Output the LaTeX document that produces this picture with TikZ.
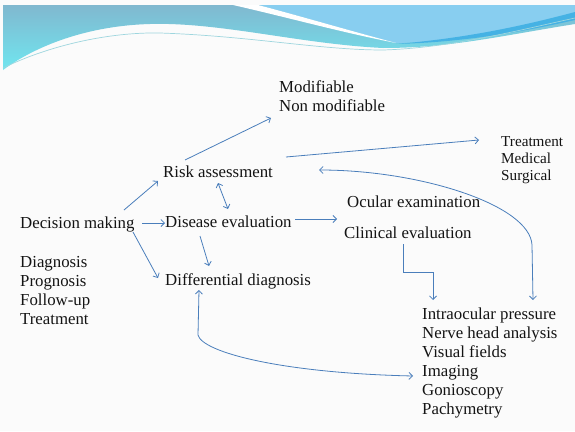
\documentclass[tikz,border=0pt]{standalone}
\usepackage{fontspec}
\setmainfont{Liberation Serif}
\usetikzlibrary{arrows.meta,calc}
\definecolor{linkblue}{HTML}{4A7EBB}
\definecolor{txt}{HTML}{141414}
\definecolor{bgwhite}{HTML}{FBFBFB}
\definecolor{bandtop}{HTML}{80B8CF}
\definecolor{bandbot}{HTML}{70E6F0}
\definecolor{skyblue}{HTML}{88CEF0}
\definecolor{deepblue}{HTML}{45B2E4}
\definecolor{thinline}{HTML}{9ED6DE}
\begin{document}
\begin{tikzpicture}[x=1pt,y=-1pt,
  lbl/.style={anchor=base west,inner sep=0pt,font=\fontsize{16.8}{19}\selectfont,text=txt},
  sml/.style={lbl,font=\fontsize{15.2}{17}\selectfont},
  conn/.style={draw=linkblue,line width=0.8pt,-{Straight Barb[length=3.5pt,width=7pt]}},
  biconn/.style={draw=linkblue,line width=0.8pt,{Straight Barb[length=3.5pt,width=7pt]}-{Straight Barb[length=3.5pt,width=7pt]}},
  plain/.style={draw=linkblue,line width=0.8pt}]
\useasboundingbox (0,0) rectangle (575,431);
\fill[bgwhite] (0,0) rectangle (575,431);
% header decoration
\shade[top color=bandtop,bottom color=bandbot]
  (3,5) -- (575,5) -- (575,24) .. controls (500,36) and (450,48) .. (383,48)
  .. controls (300,44) and (220,22) .. (150,24) .. controls (80,26) and (30,50) .. (3,70) -- cycle;
\fill[skyblue] (258,5) -- (575,5) -- (575,14) .. controls (520,28) and (450,42) .. (396,43)
  .. controls (340,28) and (300,16) .. (258,5) -- cycle;
\fill[white] (233,5) -- (258,5) .. controls (300,16) and (340,28) .. (396,43)
  .. controls (340,32) and (290,18) .. (233,5) -- cycle;
\fill[deepblue] (396,44) .. controls (470,38) and (530,24) .. (575,12) -- (575,20)
  .. controls (530,30) and (470,42) .. (396,44) -- cycle;
\draw[thinline,line width=0.7pt] (3,68) .. controls (50,45) and (110,32) .. (160,33)
  .. controls (250,36) and (320,50) .. (383,50) .. controls (450,48) and (520,30) .. (575,18);
% text nodes
\node[lbl] (mod) at (279,92) {Modifiable};
\node[lbl] (nmod) at (279,111) {Non modifiable};
\node[lbl] (ra) at (163,177) {Risk assessment};
\node[sml] (tr) at (501,146.5) {Treatment};
\node[sml] (med) at (501,163) {Medical};
\node[sml] (sur) at (501,180) {Surgical};
\node[lbl] (oe) at (347,207) {Ocular examination};
\node[lbl] (dm) at (20,228) {Decision making};
\node[lbl] (de) at (165,227) {Disease evaluation};
\node[lbl] (ce) at (344,238) {Clinical evaluation};
\node[lbl] (diag) at (20,267) {Diagnosis};
\node[lbl] (prog) at (20,286) {Prognosis};
\node[lbl] (fol) at (20,305) {Follow-up};
\node[lbl] (treat) at (20,324) {Treatment};
\node[lbl] (dd) at (165,285) {Differential diagnosis};
\node[lbl] (iop) at (422,319) {Intraocular pressure};
\node[lbl] (nha) at (422,338) {Nerve head analysis};
\node[lbl] (vf) at (422,357) {Visual fields};
\node[lbl] (img) at (422,376) {Imaging};
\node[lbl] (gon) at (422,395) {Gonioscopy};
\node[lbl] (pac) at (422,414) {Pachymetry};
% connectors
\draw[conn] ($(dm.base west)+(104,-18)$) -- ($(ra.base west)+(-5,4)$);
\draw[conn] ($(ra.base west)+(22,-17)$) -- ($(nmod.base west)+(-8,7)$);
\draw[conn] ($(dm.base west)+(122,-5)$) -- ($(de.base west)+(0,-4)$);
\draw[conn] ($(dm.base west)+(113,4)$) -- ($(dd.base west)+(-7,-7)$);
\draw[biconn] ($(ra.base west)+(55,6)$) -- ($(de.base west)+(63,-18)$);
\draw[conn] ($(de.base west)+(35,9)$) -- ($(dd.base west)+(44,-19)$);
\draw[conn] ($(ra.base west)+(123,-20)$) -- ($(tr.base west)+(-22,-6.5)$);
\draw[biconn] ($(ra.base west)+(156,-7)$) .. controls (420,170) and (530,205) .. (532,245) -- ($(iop.base west)+(111,-19)$);
\draw[conn] ($(de.base west)+(130,-8)$) -- ($(ce.base west)+(-7,-19)$);
\draw[conn] ($(ce.base west)+(59,6)$) -- ++(0,28) -| ($(iop.base west)+(11,-19)$);
\draw[biconn] ($(dd.base west)+(34,5)$) -- (198,335) .. controls (202,352) and (280,373) .. ($(img.base west)+(-9,0)$);
\end{tikzpicture}
\end{document}
